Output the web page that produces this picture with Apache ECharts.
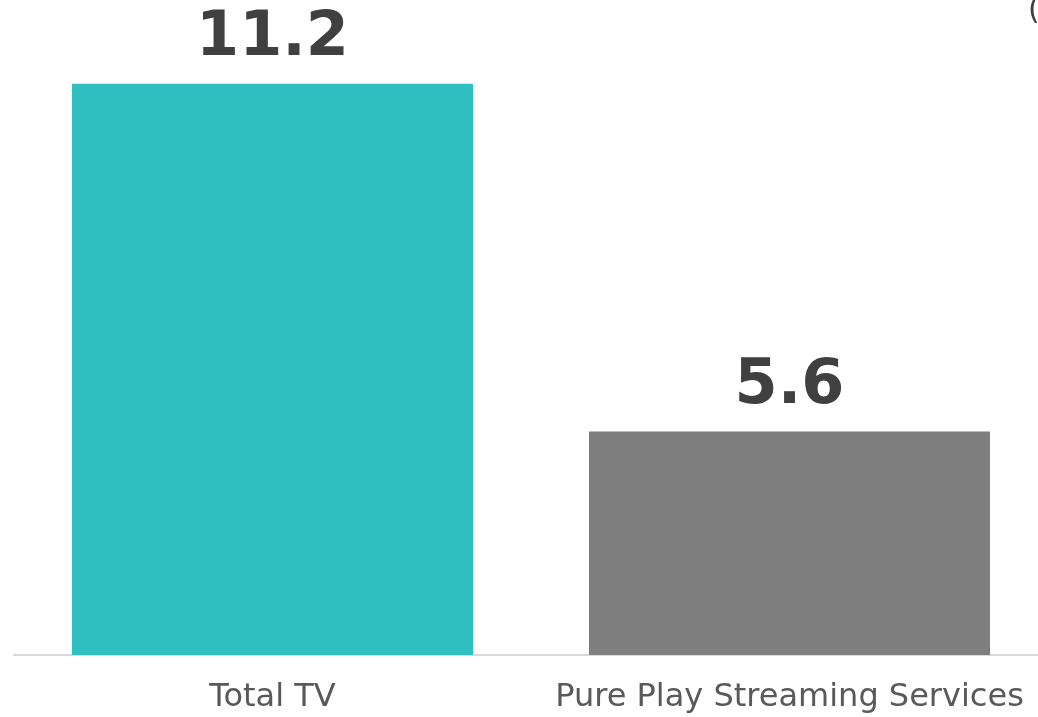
<!DOCTYPE html>
<html>
<head>
<meta charset="utf-8">
<script src="https://cdn.jsdelivr.net/npm/echarts@6/dist/echarts.min.js"></script>
<style>
  html, body { margin: 0; padding: 0; background: #fff; }
  #chart { width: 1038px; height: 717px; }
</style>
</head>
<body>
<div id="chart"></div>
<script>
// Average weekly hours by platform
const categories = ['Total TV', 'Pure Play Streaming Services'];
const values = [11.2, 5.6];
const barColors = ['#30BFC1', '#7F7F7F'];

const chart = echarts.init(document.getElementById('chart'), null, { renderer: 'canvas' });

chart.setOption({
  animation: false,
  backgroundColor: '#ffffff',
  title: {
    text: '(',
    left: 1028,
    top: -4,
    padding: 0,
    textStyle: { fontFamily: 'DejaVu Sans', fontSize: 30, fontWeight: 'normal', color: '#404040' }
  },
  grid: {
    left: 14, width: 1034, top: 34, bottom: 62,
    containLabel: false,
    outerBoundsMode: 'none'
  },
  xAxis: {
    type: 'category',
    data: categories,
    axisLine: { show: true, lineStyle: { color: '#D9D9D9', width: 2 } },
    axisTick: { show: false },
    axisLabel: {
      interval: 0,
      hideOverlap: false,
      overflow: 'none',
      margin: 27,
      fontFamily: 'DejaVu Sans',
      fontSize: 32,
      color: '#595959'
    }
  },
  yAxis: {
    type: 'value',
    min: 2,
    max: 12,
    show: false,
    splitLine: { show: false }
  },
  series: [{
    type: 'bar',
    barWidth: 401,
    data: values.map((v, i) => ({ value: v, itemStyle: { color: barColors[i] } })),
    label: {
      show: true,
      position: 'top',
      distance: 14,
      fontFamily: 'DejaVu Sans',
      fontWeight: 'bold',
      fontSize: 62,
      color: '#404040',
      formatter: p => p.value.toFixed(1)
    }
  }]
});
</script>
</body>
</html>
